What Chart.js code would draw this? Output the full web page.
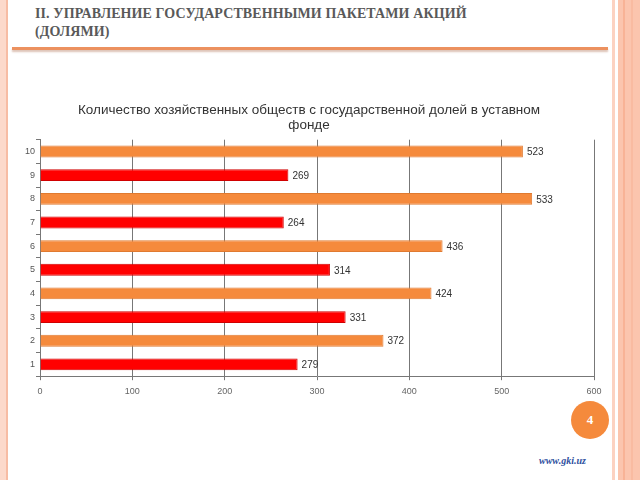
<!DOCTYPE html>
<html>
<head>
<meta charset="utf-8">
<script src="https://cdn.jsdelivr.net/npm/chart.js@4.4.1/dist/chart.umd.min.js"></script>
<style>
  html, body { margin: 0; padding: 0; background: #fff; }
  #slide { position: relative; width: 640px; height: 480px; overflow: hidden; background: #fff; }
  .strip { position: absolute; top: 0; height: 480px; }
  #head { position: absolute; left: 35px; top: 5px; font-family: "Liberation Serif", "DejaVu Serif", serif;
          font-weight: bold; font-size: 14px; line-height: 18px; color: #595959; letter-spacing: 0.1px; }
  #rule { position: absolute; left: 12px; top: 47px; width: 596px; height: 3px; background: #ec915f;
          box-shadow: 0 2px 2px rgba(180, 120, 90, 0.45); }
  #wrap { position: absolute; left: 10px; top: 98px; width: 600px; height: 305px; }
  #num { position: absolute; left: 571px; top: 401px; width: 38px; height: 38px; border-radius: 50%;
         background: #f58a3c; color: #fff; font-family: "Liberation Serif", serif; font-weight: bold;
         font-size: 13px; line-height: 38px; text-align: center; }
  #site { position: absolute; left: 539px; top: 455px; font-family: "Liberation Serif", serif; font-style: italic;
          font-weight: bold; font-size: 10px; color: #2e4f9e; }
</style>
</head>
<body>
<div id="slide">
  <div class="strip" style="left:0; width:6px; background:#fcd9cb;"></div>
  <div class="strip" style="left:6px; width:2px; background:#f7bca4;"></div>
  <div class="strip" style="left:612px; width:3px; background:#fcd2c1;"></div>
  <div class="strip" style="left:618px; width:22px; background:#fbc5ae;"></div>
  <div class="strip" style="left:623px; width:2px; background:#f8b396;"></div>
  <div class="strip" style="left:631px; width:2px; background:#f9bba1;"></div>
  <div id="head">II. УПРАВЛЕНИЕ ГОСУДАРСТВЕННЫМИ ПАКЕТАМИ АКЦИЙ<br>(ДОЛЯМИ)</div>
  <div id="rule"></div>
  <div id="wrap"><canvas id="chartObshestva"></canvas></div>
  <div id="num">4</div>
  <div id="site">www.gki.uz</div>
</div>
<script>
const kategori = ['1', '2', '3', '4', '5', '6', '7', '8', '9', '10'];
const jumlah = [279, 372, 331, 424, 314, 436, 264, 533, 269, 523];
const warnaBar = ['#ff0000', '#f58a3c', '#ff0000', '#f58a3c', '#ff0000', '#f58a3c', '#ff0000', '#f58a3c', '#ff0000', '#f58a3c'];
const warnaTepi = ['#d00000', '#e07a30', '#d00000', '#e07a30', '#d00000', '#e07a30', '#d00000', '#e07a30', '#d00000', '#e07a30'];
const judul = ['Количество хозяйственных обществ с государственной долей в уставном', 'фонде'];

// label nilai di ujung bar
const labelNilai = {
    id: 'labelNilai',
    afterDatasetsDraw(chart) {
        const ctx = chart.ctx;
        const meta = chart.getDatasetMeta(0);
        ctx.save();
        ctx.font = '10px "Liberation Sans", Arial, sans-serif';
        ctx.fillStyle = '#333';
        ctx.textAlign = 'left';
        ctx.textBaseline = 'middle';
        meta.data.forEach(function (bar, i) {
            ctx.fillText(jumlah[i], bar.x + 4, bar.y + 1);
        });
        ctx.restore();
    }
};

window.onload = function () {
    const ctxObshestva = document.getElementById('chartObshestva');
    new Chart(ctxObshestva.getContext('2d'), {
        type: 'bar',
        data: {
            labels: kategori,
            datasets: [{
                data: jumlah,
                backgroundColor: warnaBar,
                borderColor: warnaTepi,
                borderWidth: 1,
                barPercentage: 0.5,
                categoryPercentage: 1
            }]
        },
        options: {
            indexAxis: 'y',
            responsive: true,
            maintainAspectRatio: false,
            animation: false,
            layout: { padding: { left: 14, right: 16, top: 0, bottom: 0 } },
            plugins: {
                legend: { display: false },
                tooltip: { enabled: false },
                title: {
                    display: true,
                    text: judul,
                    color: '#333',
                    font: { family: '"Liberation Sans", Arial, sans-serif', size: 13.5, weight: 'normal', lineHeight: 1.1 },
                    padding: { top: 5, bottom: 7 }
                }
            },
            scales: {
                x: {
                    min: 0,
                    max: 600,
                    ticks: { stepSize: 100, color: '#666', font: { size: 9, family: '"Liberation Sans", Arial, sans-serif' }, padding: 6 },
                    grid: { color: '#777', lineWidth: 1, tickLength: 4 },
                    border: { color: '#777' }
                },
                y: {
                    reverse: true,
                    ticks: { color: '#555', font: { size: 9, family: '"Liberation Sans", Arial, sans-serif' }, padding: 1 },
                    grid: { drawOnChartArea: false, color: '#777', tickLength: 4 },
                    border: { color: '#777' }
                }
            }
        },
        plugins: [labelNilai]
    });
};
</script>
</body>
</html>
